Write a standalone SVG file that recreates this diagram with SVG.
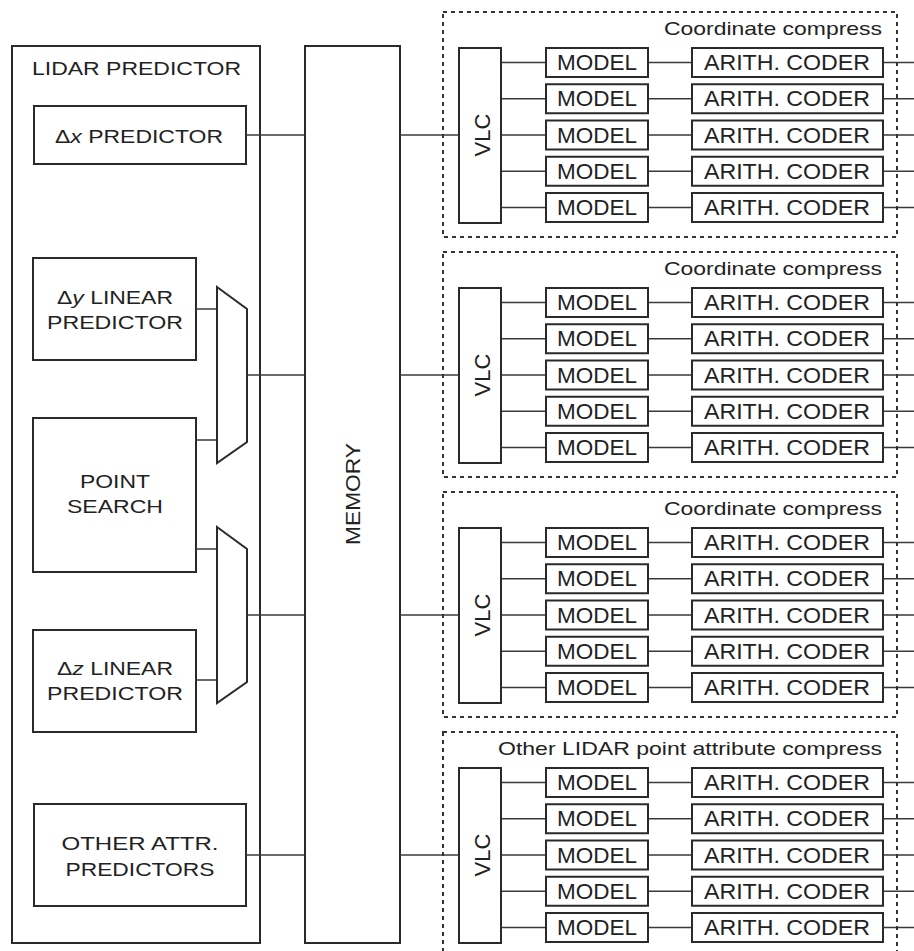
<svg xmlns="http://www.w3.org/2000/svg" width="914" height="951" viewBox="0 0 914 951">
<style>
.box{fill:#fff;stroke:#2a2a2a;stroke-width:2}
.obox{fill:none;stroke:#2a2a2a;stroke-width:2}
.ln{stroke:#3a3a3a;stroke-width:1.5;fill:none}
.dash{fill:none;stroke:#333;stroke-width:2;stroke-dasharray:4 4}
text{font-family:"Liberation Sans",Arial,sans-serif;fill:#222}
.lt{font-size:19px;text-anchor:middle}
.bt{font-size:22px;text-anchor:middle}
.tt{font-size:19px;text-anchor:end}
</style>
<rect width="914" height="951" fill="#fff"/>

<g id="lidar-predictor">
<rect class="obox" x="12" y="46" width="248" height="897"/>
<text x="32" y="75" font-size="19" textLength="209" lengthAdjust="spacingAndGlyphs">LIDAR PREDICTOR</text>
</g>
<g id="dx-predictor">
<rect class="box" x="34" y="106" width="212" height="58"/>
<text class="lt" x="139" y="143" textLength="168" lengthAdjust="spacingAndGlyphs">Δ<tspan font-style="italic">x</tspan> PREDICTOR</text>
</g>
<g id="dy-predictor">
<rect class="box" x="33" y="258" width="163" height="102"/>
<text class="lt" x="115" y="304" textLength="116" lengthAdjust="spacingAndGlyphs">Δ<tspan font-style="italic">y</tspan> LINEAR</text>
<text class="lt" x="115" y="329" textLength="136" lengthAdjust="spacingAndGlyphs">PREDICTOR</text>
</g>
<g id="point-search">
<rect class="box" x="33" y="418" width="163" height="154"/>
<text class="lt" x="115" y="488" textLength="70" lengthAdjust="spacingAndGlyphs">POINT</text>
<text class="lt" x="115" y="513" textLength="96" lengthAdjust="spacingAndGlyphs">SEARCH</text>
</g>
<g id="dz-predictor">
<rect class="box" x="33" y="630" width="163" height="102"/>
<text class="lt" x="115" y="675" textLength="116" lengthAdjust="spacingAndGlyphs">Δ<tspan font-style="italic">z</tspan> LINEAR</text>
<text class="lt" x="115" y="700" textLength="136" lengthAdjust="spacingAndGlyphs">PREDICTOR</text>
</g>
<g id="other-attr-predictors">
<rect class="box" x="34" y="804" width="212" height="102"/>
<text class="lt" x="140" y="850" textLength="157" lengthAdjust="spacingAndGlyphs">OTHER  ATTR.</text>
<text class="lt" x="140" y="876" textLength="149" lengthAdjust="spacingAndGlyphs">PREDICTORS</text>
</g>
<g id="mux-y">
<polygon class="box" points="217,287 247,309 247,442 217,463"/>
</g>
<g id="mux-z">
<polygon class="box" points="217,527 247,549 247,682 217,703"/>
</g>
<g id="memory">
<rect class="box" x="305" y="46" width="95" height="897"/>
<text transform="translate(360,494) rotate(-90)" font-size="21" text-anchor="middle" textLength="102" lengthAdjust="spacingAndGlyphs">MEMORY</text>
</g>

<g id="connectors">
<line class="ln" x1="246" y1="135" x2="305" y2="135"/>
<line class="ln" x1="196" y1="309" x2="217" y2="309"/>
<line class="ln" x1="196" y1="440" x2="217" y2="440"/>
<line class="ln" x1="247" y1="375" x2="305" y2="375"/>
<line class="ln" x1="196" y1="549" x2="217" y2="549"/>
<line class="ln" x1="196" y1="680" x2="217" y2="680"/>
<line class="ln" x1="247" y1="615" x2="305" y2="615"/>
<line class="ln" x1="246" y1="855" x2="305" y2="855"/>
<line class="ln" x1="400" y1="135" x2="459" y2="135"/>
<line class="ln" x1="400" y1="375" x2="459" y2="375"/>
<line class="ln" x1="400" y1="615" x2="459" y2="615"/>
<line class="ln" x1="400" y1="855" x2="459" y2="855"/>
<g id="section-lines-1">
<path class="ln" d="M501 62.5H546M648 62.5H692M883 62.5H914M501 98.75H546M648 98.75H692M883 98.75H914M501 135H546M648 135H692M883 135H914M501 171.25H546M648 171.25H692M883 171.25H914M501 207.5H546M648 207.5H692M883 207.5H914"/>
</g>
<g id="section-lines-2" transform="translate(0,240)">
<path class="ln" d="M501 62.5H546M648 62.5H692M883 62.5H914M501 98.75H546M648 98.75H692M883 98.75H914M501 135H546M648 135H692M883 135H914M501 171.25H546M648 171.25H692M883 171.25H914M501 207.5H546M648 207.5H692M883 207.5H914"/>
</g>
<g id="section-lines-3" transform="translate(0,480)">
<path class="ln" d="M501 62.5H546M648 62.5H692M883 62.5H914M501 98.75H546M648 98.75H692M883 98.75H914M501 135H546M648 135H692M883 135H914M501 171.25H546M648 171.25H692M883 171.25H914M501 207.5H546M648 207.5H692M883 207.5H914"/>
</g>
<g id="section-lines-4" transform="translate(0,720)">
<path class="ln" d="M501 62.5H546M648 62.5H692M883 62.5H914M501 98.75H546M648 98.75H692M883 98.75H914M501 135H546M648 135H692M883 135H914M501 171.25H546M648 171.25H692M883 171.25H914M501 207.5H546M648 207.5H692M883 207.5H914"/>
</g>
</g>

<g id="section-1">
<rect class="dash" x="443" y="12" width="454" height="225"/>
<text class="tt" x="882" y="35" textLength="218" lengthAdjust="spacingAndGlyphs">Coordinate compress</text>
<g id="vlc-1"><rect class="box" x="459" y="48" width="42" height="175"/><text transform="translate(490,135) rotate(-90)" font-size="22" text-anchor="middle">VLC</text></g>
<g id="model-1-1"><rect class="box" x="546" y="48" width="102" height="29"/><text class="bt" x="597" y="70" textLength="80" lengthAdjust="spacingAndGlyphs">MODEL</text></g>
<g id="model-1-2"><rect class="box" x="546" y="84.25" width="102" height="29"/><text class="bt" x="597" y="106.25" textLength="80" lengthAdjust="spacingAndGlyphs">MODEL</text></g>
<g id="model-1-3"><rect class="box" x="546" y="120.5" width="102" height="29"/><text class="bt" x="597" y="142.5" textLength="80" lengthAdjust="spacingAndGlyphs">MODEL</text></g>
<g id="model-1-4"><rect class="box" x="546" y="156.75" width="102" height="29"/><text class="bt" x="597" y="178.75" textLength="80" lengthAdjust="spacingAndGlyphs">MODEL</text></g>
<g id="model-1-5"><rect class="box" x="546" y="193" width="102" height="29"/><text class="bt" x="597" y="215" textLength="80" lengthAdjust="spacingAndGlyphs">MODEL</text></g>
<g id="coder-1-1"><rect class="box" x="692" y="48" width="191" height="29"/><text class="bt" x="787" y="70" textLength="166" lengthAdjust="spacingAndGlyphs">ARITH. CODER</text></g>
<g id="coder-1-2"><rect class="box" x="692" y="84.25" width="191" height="29"/><text class="bt" x="787" y="106.25" textLength="166" lengthAdjust="spacingAndGlyphs">ARITH. CODER</text></g>
<g id="coder-1-3"><rect class="box" x="692" y="120.5" width="191" height="29"/><text class="bt" x="787" y="142.5" textLength="166" lengthAdjust="spacingAndGlyphs">ARITH. CODER</text></g>
<g id="coder-1-4"><rect class="box" x="692" y="156.75" width="191" height="29"/><text class="bt" x="787" y="178.75" textLength="166" lengthAdjust="spacingAndGlyphs">ARITH. CODER</text></g>
<g id="coder-1-5"><rect class="box" x="692" y="193" width="191" height="29"/><text class="bt" x="787" y="215" textLength="166" lengthAdjust="spacingAndGlyphs">ARITH. CODER</text></g>
</g>

<g id="section-2" transform="translate(0,240)">
<rect class="dash" x="443" y="12" width="454" height="225"/>
<text class="tt" x="882" y="35" textLength="218" lengthAdjust="spacingAndGlyphs">Coordinate compress</text>
<g id="vlc-2"><rect class="box" x="459" y="48" width="42" height="175"/><text transform="translate(490,135) rotate(-90)" font-size="22" text-anchor="middle">VLC</text></g>
<g id="model-2-1"><rect class="box" x="546" y="48" width="102" height="29"/><text class="bt" x="597" y="70" textLength="80" lengthAdjust="spacingAndGlyphs">MODEL</text></g>
<g id="model-2-2"><rect class="box" x="546" y="84.25" width="102" height="29"/><text class="bt" x="597" y="106.25" textLength="80" lengthAdjust="spacingAndGlyphs">MODEL</text></g>
<g id="model-2-3"><rect class="box" x="546" y="120.5" width="102" height="29"/><text class="bt" x="597" y="142.5" textLength="80" lengthAdjust="spacingAndGlyphs">MODEL</text></g>
<g id="model-2-4"><rect class="box" x="546" y="156.75" width="102" height="29"/><text class="bt" x="597" y="178.75" textLength="80" lengthAdjust="spacingAndGlyphs">MODEL</text></g>
<g id="model-2-5"><rect class="box" x="546" y="193" width="102" height="29"/><text class="bt" x="597" y="215" textLength="80" lengthAdjust="spacingAndGlyphs">MODEL</text></g>
<g id="coder-2-1"><rect class="box" x="692" y="48" width="191" height="29"/><text class="bt" x="787" y="70" textLength="166" lengthAdjust="spacingAndGlyphs">ARITH. CODER</text></g>
<g id="coder-2-2"><rect class="box" x="692" y="84.25" width="191" height="29"/><text class="bt" x="787" y="106.25" textLength="166" lengthAdjust="spacingAndGlyphs">ARITH. CODER</text></g>
<g id="coder-2-3"><rect class="box" x="692" y="120.5" width="191" height="29"/><text class="bt" x="787" y="142.5" textLength="166" lengthAdjust="spacingAndGlyphs">ARITH. CODER</text></g>
<g id="coder-2-4"><rect class="box" x="692" y="156.75" width="191" height="29"/><text class="bt" x="787" y="178.75" textLength="166" lengthAdjust="spacingAndGlyphs">ARITH. CODER</text></g>
<g id="coder-2-5"><rect class="box" x="692" y="193" width="191" height="29"/><text class="bt" x="787" y="215" textLength="166" lengthAdjust="spacingAndGlyphs">ARITH. CODER</text></g>
</g>

<g id="section-3" transform="translate(0,480)">
<rect class="dash" x="443" y="12" width="454" height="225"/>
<text class="tt" x="882" y="35" textLength="218" lengthAdjust="spacingAndGlyphs">Coordinate compress</text>
<g id="vlc-3"><rect class="box" x="459" y="48" width="42" height="175"/><text transform="translate(490,135) rotate(-90)" font-size="22" text-anchor="middle">VLC</text></g>
<g id="model-3-1"><rect class="box" x="546" y="48" width="102" height="29"/><text class="bt" x="597" y="70" textLength="80" lengthAdjust="spacingAndGlyphs">MODEL</text></g>
<g id="model-3-2"><rect class="box" x="546" y="84.25" width="102" height="29"/><text class="bt" x="597" y="106.25" textLength="80" lengthAdjust="spacingAndGlyphs">MODEL</text></g>
<g id="model-3-3"><rect class="box" x="546" y="120.5" width="102" height="29"/><text class="bt" x="597" y="142.5" textLength="80" lengthAdjust="spacingAndGlyphs">MODEL</text></g>
<g id="model-3-4"><rect class="box" x="546" y="156.75" width="102" height="29"/><text class="bt" x="597" y="178.75" textLength="80" lengthAdjust="spacingAndGlyphs">MODEL</text></g>
<g id="model-3-5"><rect class="box" x="546" y="193" width="102" height="29"/><text class="bt" x="597" y="215" textLength="80" lengthAdjust="spacingAndGlyphs">MODEL</text></g>
<g id="coder-3-1"><rect class="box" x="692" y="48" width="191" height="29"/><text class="bt" x="787" y="70" textLength="166" lengthAdjust="spacingAndGlyphs">ARITH. CODER</text></g>
<g id="coder-3-2"><rect class="box" x="692" y="84.25" width="191" height="29"/><text class="bt" x="787" y="106.25" textLength="166" lengthAdjust="spacingAndGlyphs">ARITH. CODER</text></g>
<g id="coder-3-3"><rect class="box" x="692" y="120.5" width="191" height="29"/><text class="bt" x="787" y="142.5" textLength="166" lengthAdjust="spacingAndGlyphs">ARITH. CODER</text></g>
<g id="coder-3-4"><rect class="box" x="692" y="156.75" width="191" height="29"/><text class="bt" x="787" y="178.75" textLength="166" lengthAdjust="spacingAndGlyphs">ARITH. CODER</text></g>
<g id="coder-3-5"><rect class="box" x="692" y="193" width="191" height="29"/><text class="bt" x="787" y="215" textLength="166" lengthAdjust="spacingAndGlyphs">ARITH. CODER</text></g>
</g>

<g id="section-4" transform="translate(0,720)">
<rect class="dash" x="443" y="12" width="454" height="260"/>
<text class="tt" x="882" y="35" textLength="384" lengthAdjust="spacingAndGlyphs">Other LIDAR point attribute compress</text>
<g id="vlc-4"><rect class="box" x="459" y="48" width="42" height="175"/><text transform="translate(490,135) rotate(-90)" font-size="22" text-anchor="middle">VLC</text></g>
<g id="model-4-1"><rect class="box" x="546" y="48" width="102" height="29"/><text class="bt" x="597" y="70" textLength="80" lengthAdjust="spacingAndGlyphs">MODEL</text></g>
<g id="model-4-2"><rect class="box" x="546" y="84.25" width="102" height="29"/><text class="bt" x="597" y="106.25" textLength="80" lengthAdjust="spacingAndGlyphs">MODEL</text></g>
<g id="model-4-3"><rect class="box" x="546" y="120.5" width="102" height="29"/><text class="bt" x="597" y="142.5" textLength="80" lengthAdjust="spacingAndGlyphs">MODEL</text></g>
<g id="model-4-4"><rect class="box" x="546" y="156.75" width="102" height="29"/><text class="bt" x="597" y="178.75" textLength="80" lengthAdjust="spacingAndGlyphs">MODEL</text></g>
<g id="model-4-5"><rect class="box" x="546" y="193" width="102" height="29"/><text class="bt" x="597" y="215" textLength="80" lengthAdjust="spacingAndGlyphs">MODEL</text></g>
<g id="coder-4-1"><rect class="box" x="692" y="48" width="191" height="29"/><text class="bt" x="787" y="70" textLength="166" lengthAdjust="spacingAndGlyphs">ARITH. CODER</text></g>
<g id="coder-4-2"><rect class="box" x="692" y="84.25" width="191" height="29"/><text class="bt" x="787" y="106.25" textLength="166" lengthAdjust="spacingAndGlyphs">ARITH. CODER</text></g>
<g id="coder-4-3"><rect class="box" x="692" y="120.5" width="191" height="29"/><text class="bt" x="787" y="142.5" textLength="166" lengthAdjust="spacingAndGlyphs">ARITH. CODER</text></g>
<g id="coder-4-4"><rect class="box" x="692" y="156.75" width="191" height="29"/><text class="bt" x="787" y="178.75" textLength="166" lengthAdjust="spacingAndGlyphs">ARITH. CODER</text></g>
<g id="coder-4-5"><rect class="box" x="692" y="193" width="191" height="29"/><text class="bt" x="787" y="215" textLength="166" lengthAdjust="spacingAndGlyphs">ARITH. CODER</text></g>
</g>
</svg>
